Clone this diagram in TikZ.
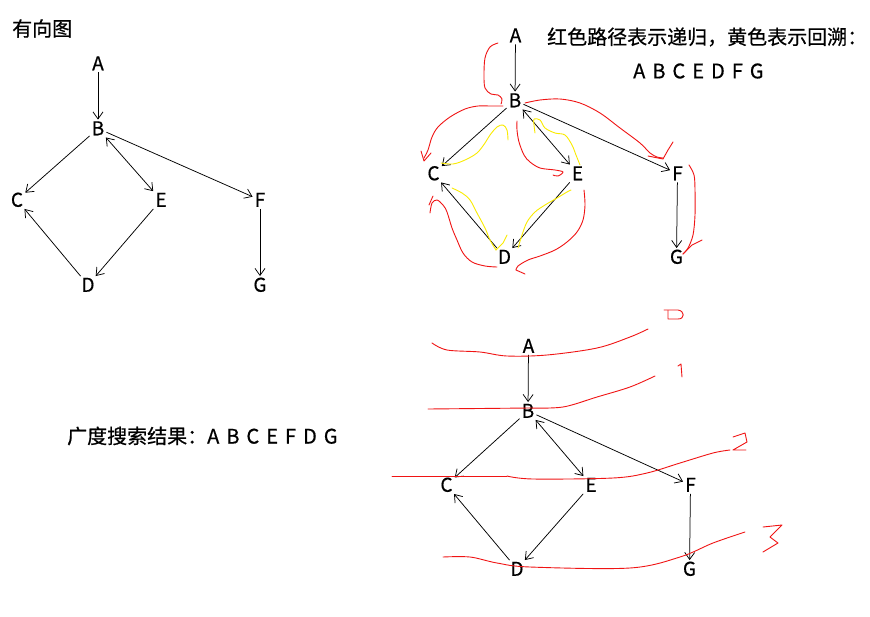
\documentclass[tikz,border=0pt]{standalone}
\usepackage{fontspec}
\setmainfont{Noto Sans CJK SC}[FakeBold=0.6]
\usetikzlibrary{arrows.meta}
\begin{document}
\begin{tikzpicture}[x=1pt,y=-1pt,
  v/.style={font=\fontsize{19}{20}\selectfont, inner sep=2pt, text height=13.5pt, text depth=0pt},
  lbl/.style={font=\fontsize{20}{22}\selectfont, inner sep=0pt, anchor=west},
  e/.style={draw=black, line width=0.75pt, -{Straight Barb[length=7pt,width=10pt]}},
  ee/.style={draw=black, line width=0.75pt, {Straight Barb[length=7pt,width=10pt]}-{Straight Barb[length=7pt,width=10pt]}},
  rline/.style={draw={rgb,255:red,240;green,20;blue,20}, line width=0.9pt, line join=round, line cap=round},
  yline/.style={draw={rgb,255:red,250;green,235;blue,0}, line width=0.9pt, line join=round, line cap=round},
  sm/.style={smooth, tension=0.55}]
\useasboundingbox (0,0) rectangle (870,616);
\fill[white] (0,0) rectangle (870,616);

% ---------- left graph ----------
\node[lbl] (t1) at (12,28.5) {有向图};
\node[v] (lA) at (98,63.5) {A};
\node[v] (lB) at (98,128.5) {B};
\node[v] (lC) at (17,200) {C};
\node[v] (lE) at (161,200) {E};
\node[v] (lF) at (260,200) {F};
\node[v] (lD) at (88,285) {D};
\node[v] (lG) at (260,285) {G};
\draw[e] (lA) -- (lB);
\draw[e] (lB) -- (lC);
\draw[ee] (lB) -- (lE);
\draw[e] (lB) -- (lF);
\draw[e] (lF) -- (lG);
\draw[e] (lE) -- (lD);
\draw[e] (lD) -- (lC);

% ---------- top right graph ----------
\node[v] (mA) at (515.5,35.5) {A};
\node[v] (mB) at (515,100.5) {B};
\node[v] (mC) at (433.5,173.5) {C};
\node[v] (mE) at (577.5,173.5) {E};
\node[v] (mF) at (677.5,173.5) {F};
\node[v] (mD) at (504.5,257) {D};
\node[v] (mG) at (676.5,257) {G};
\draw[e] (mA) -- (mB);
\draw[e] (mB) -- (mC);
\draw[ee] (mB) -- (mE);
\draw[e] (mB) -- (mF);
\draw[e] (mF) -- (mG);
\draw[e] (mE) -- (mD);
\draw[e] (mD) -- (mC);
\node[lbl] (t2) at (547,37) {红色路径表示递归，黄色表示回溯：};
\node[lbl] (t3) at (633,71) {\spaceskip=7pt A B C E D F G};

% red (recursion) strokes
\draw[rline] plot[sm] coordinates {(498,43) (490,47) (485,58) (484,75) (485,88) (491,94) (498,95) (502,99) (501,104)};
\draw[rline] plot[sm] coordinates {(503,106) (490,106) (478,106) (465,109) (450,117) (438,127) (432,137) (428,150) (424,158)};
\draw[rline] (421,151) -- (424,161) -- (431,153);
\draw[rline] plot[sm] coordinates {(517,121) (517,130) (519,142) (524,155) (530,162) (540,168) (555,170) (563,172) (558,176) (553,175)};
\draw[rline] plot[sm] coordinates {(525,103) (540,100) (560,99) (580,103) (600,113) (620,128) (640,143) (650,153) (657,157) (663,158)};
\draw[rline] (648,156) -- (663,159) -- (668,150) -- (673,142);
\draw[rline] plot[sm] coordinates {(689,165) (694,175) (695,190) (695,215) (693,235) (688,248) (683,254)};
\draw[rline] (683,254) -- (692,245) -- (702,240);
\draw[rline] plot[sm] coordinates {(584,190) (585,205) (583,220) (577,232) (567,242) (555,250) (540,256) (528,260) (518,266) (516,270)};
\draw[rline] (516,270) -- (525,274);
\draw[rline] plot[sm] coordinates {(497,267) (485,266) (472,262) (463,253) (457,240) (452,228) (447,212) (443,205) (437,200) (432,203) (430,213)};
\draw[rline] (433,196) -- (429,205);

% yellow (backtracking) strokes
\draw[yline] plot[sm] coordinates {(441,163) (453,164) (465,160) (477,153) (485,143) (490,135) (497,127) (503,125) (507,130) (508,140)};
\draw[yline] plot[sm] coordinates {(580,165) (576,155) (572,145) (565,135) (555,133) (545,128) (540,120) (534,119) (534,125) (535,133)};
\draw[yline] plot[sm] coordinates {(452,188) (462,193) (470,200) (477,213) (485,228) (490,240) (496,250)};
\draw[yline] (496,250) -- (503,243) -- (507,235);
\draw[yline] plot[sm] coordinates {(518,248) (522,235) (527,222) (535,212) (545,205) (557,198) (567,192) (571,190)};

% ---------- bottom graph ----------
\node[v] (bA) at (528.5,346) {A};
\node[v] (bB) at (528,411) {B};
\node[v] (bC) at (446.5,485) {C};
\node[v] (bE) at (591,485) {E};
\node[v] (bF) at (690.5,485) {F};
\node[v] (bD) at (517,569) {D};
\node[v] (bG) at (689.5,569) {G};
\draw[e] (bA) -- (bB);
\draw[e] (bB) -- (bC);
\draw[ee] (bB) -- (bE);
\draw[e] (bB) -- (bF);
\draw[e] (bF) -- (bG);
\draw[e] (bE) -- (bD);
\draw[e] (bD) -- (bC);
\node[lbl] (t4) at (67,436) {广度搜索结果：\spaceskip=7pt A B C E F D G};

% level lines
\draw[rline] plot[sm] coordinates {(432,343) (447,350) (480,352) (507,356) (547,355) (597,348) (630,337) (648,329)};
\draw[rline] (428,409) -- (530,408);
\draw[rline] plot[sm] coordinates {(530,408) (563,407) (597,397) (630,387) (655,376)};
\draw[rline] (392,476) -- (507,476);
\draw[rline] plot[sm] coordinates {(507,476) (533,479) (613,478) (647,473) (680,463) (713,453) (730,450)};
\draw[rline] plot[sm] coordinates {(443,557) (470,557) (497,563) (530,567) (630,568) (680,557) (713,543) (745,532)};
% level numbers (hand drawn)
\draw[rline] (664,310) -- (678,310) .. controls (685,311) and (685,319) .. (678,319) -- (668,319) -- (668,311);
\draw[rline] (678,366) -- (681,364) -- (682,377);
\draw[rline] (733,437) -- (745,433) -- (747,442) -- (733,450) -- (746,450);
\draw[rline] (763,527) -- (782,525) -- (770,537) -- (778,543) -- (763,552);
\end{tikzpicture}
\end{document}
